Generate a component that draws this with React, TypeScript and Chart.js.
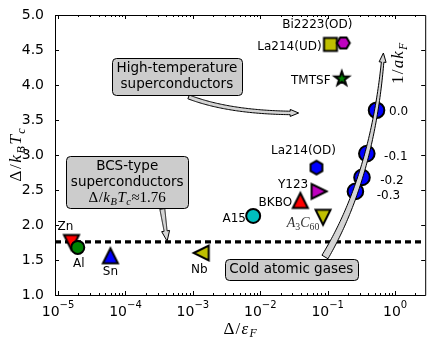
import React, { useEffect, useRef } from 'react';
import { Chart, registerables } from 'chart.js';

Chart.register(...registerables);

// ---------------- data ----------------
const materialNames = ['Zn', 'Al', 'Sn', 'Nb', 'A15', 'BKBO', 'Y123', 'A3C60', 'La214(OD)', 'TMTSF', 'La214(UD)', 'Bi2223(OD)'];
const materialGapOverFermi = [1.58e-5, 1.96e-5, 5.97e-5, 1.33e-3, 7.85e-3, 0.0393, 0.0746, 0.0853, 0.0682, 0.162, 0.110, 0.171];
const materialGapOverTc = [1.75, 1.68, 1.56, 1.60, 2.13, 2.35, 2.48, 2.11, 2.82, 4.09, 4.58, 4.60];

const coldAtomCoupling = ['0.0', '-0.1', '-0.2', '-0.3'];
const coldAtomGapOverFermi = [0.531, 0.381, 0.323, 0.258];
const coldAtomGapOverTc = [3.64, 3.02, 2.68, 2.48];

const bcsRatio = 1.76;

const xMin = 9e-6;
const xMax = 2.8;
const yMin = 1.0;
const yMax = 5.0;
const xTickValues = [1e-5, 1e-4, 1e-3, 1e-2, 1e-1, 1];
const xTickExponents = ['−5', '−4', '−3', '−2', '−1', '0'];
const yTickValues = [1.0, 1.5, 2.0, 2.5, 3.0, 3.5, 4.0, 4.5, 5.0];

// ---------------- styles ----------------
const materialShapes = ['tri-down', 'circle', 'tri-up', 'tri-left', 'circle', 'tri-up', 'tri-right', 'tri-down', 'hex1', 'star', 'square', 'hex2'];
const materialColors = ['#ff0000', '#008000', '#0000ff', '#bfbf00', '#00bfbf', '#ff0000', '#bf00bf', '#bfbf00', '#0000ff', '#008000', '#bfbf00', '#bf00bf'];
const materialSizes = [7.5, 6.5, 7.5, 7.5, 7, 7.5, 7.5, 7.5, 6.8, 7.5, 6.5, 6.4];
const materialOrder = [2, 1, 2, 2, 2, 2, 2, 2, 2, 2, 2, 1];
const materialLabelOffsets = [[-6, -16], [1, 16], [0, 16], [-2, 17], [-19, 3], [-25, 2], [-26, -7], [-20, 5], [-13, -17], [-31, 2], [-41, 2], [-26, -18]];
const coldLabelOffsets = [[22, 2], [29, 3], [30, 3], [33, 4]];

const SANS = '"DejaVu Sans", sans-serif';
const SERIF = '"Liberation Serif", "DejaVu Serif", serif';

type Seg = { t: string; it?: boolean; sub?: boolean };

const yTitle: Seg[] = [{ t: 'Δ' }, { t: '/' }, { t: 'k', it: true }, { t: 'B', it: true, sub: true }, { t: 'T', it: true }, { t: 'c', it: true, sub: true }];
const xTitle: Seg[] = [{ t: 'Δ' }, { t: '/' }, { t: 'ε', it: true }, { t: 'F', it: true, sub: true }];
const bcsMath: Seg[] = [{ t: 'Δ' }, { t: '/' }, { t: 'k', it: true }, { t: 'B', it: true, sub: true }, { t: 'T', it: true }, { t: 'c', it: true, sub: true }, { t: '≈1.76' }];
const a3c60Math: Seg[] = [{ t: 'A', it: true }, { t: '3', sub: true }, { t: 'C', it: true }, { t: '60', sub: true }];
const couplingMath: Seg[] = [{ t: '1' }, { t: '/' }, { t: 'a', it: true }, { t: 'k', it: true }, { t: 'F', it: true, sub: true }];

// annotation boxes (data coordinates of box centre)
const annotationBoxes: { lines: (string | Seg[])[]; x: number; y: number }[] = [
  { lines: ['High-temperature', 'superconductors'], x: 5.79e-4, y: 4.13 },
  { lines: ['BCS-type', 'superconductors', bcsMath], x: 1.06e-4, y: 2.62 },
  { lines: ['Cold atomic gases'], x: 0.0289, y: 1.37 },
];
// arrows: start, control, tip (data coordinates)
const annotationArrows = [
  { p: [[8.64e-4, 3.83], [3.61e-3, 3.60], [0.0371, 3.60]], w0: 4, w1: 3.5, hl: 8, hw: 7 },
  { p: [[3.52e-4, 2.23], [3.82e-4, 2.0], [4.15e-4, 1.77]], w0: 5, w1: 3, hl: 10, hw: 8 },
  { p: [[0.0912, 1.543], [0.481, 2.714], [0.671, 4.457]], w0: 7, w1: 2.5, hl: 8, hw: 7 },
];

function makeMarker(shape: string, fill: string, h: number, lw = 2): HTMLCanvasElement {
  let dim = Math.ceil(h * 2 + lw + 6);
  if (dim % 2) dim += 1;
  const c = document.createElement('canvas');
  c.width = dim;
  c.height = dim;
  const g = c.getContext('2d')!;
  g.translate(dim / 2, dim / 2);
  g.beginPath();
  switch (shape) {
    case 'tri-up': g.moveTo(0, -h); g.lineTo(h, h); g.lineTo(-h, h); break;
    case 'tri-down': g.moveTo(0, h); g.lineTo(h, -h); g.lineTo(-h, -h); break;
    case 'tri-left': g.moveTo(-h, 0); g.lineTo(h, -h); g.lineTo(h, h); break;
    case 'tri-right': g.moveTo(h, 0); g.lineTo(-h, -h); g.lineTo(-h, h); break;
    case 'square': g.rect(-h, -h, 2 * h, 2 * h); break;
    case 'hex1':
    case 'hex2': {
      const a0 = shape === 'hex1' ? -Math.PI / 2 : 0;
      for (let k = 0; k < 6; k++) {
        const a = a0 + (k * Math.PI) / 3;
        if (k === 0) g.moveTo(h * Math.cos(a), h * Math.sin(a));
        else g.lineTo(h * Math.cos(a), h * Math.sin(a));
      }
      break;
    }
    case 'star': {
      for (let k = 0; k < 10; k++) {
        const r = k % 2 === 0 ? h : h * 0.4;
        const a = -Math.PI / 2 + (k * Math.PI) / 5;
        if (k === 0) g.moveTo(r * Math.cos(a), r * Math.sin(a));
        else g.lineTo(r * Math.cos(a), r * Math.sin(a));
      }
      break;
    }
  }
  g.closePath();
  g.fillStyle = fill;
  g.fill();
  g.lineWidth = lw;
  g.strokeStyle = '#000';
  g.lineJoin = 'miter';
  g.stroke();
  return c;
}

function segFont(s: Seg, size: number) {
  return `${s.it ? 'italic ' : ''}${s.sub ? size * 0.7 : size}px ${SERIF}`;
}
function mathWidth(ctx: CanvasRenderingContext2D, segs: Seg[], size: number, gap: number) {
  let w = 0;
  segs.forEach((s, i) => {
    ctx.font = segFont(s, size);
    w += ctx.measureText(s.t).width + (i < segs.length - 1 ? gap : 0);
  });
  return w;
}
function drawMath(ctx: CanvasRenderingContext2D, segs: Seg[], cx: number, cy: number, size: number, color = '#000', gap = 1) {
  const w = mathWidth(ctx, segs, size, gap);
  let x = cx - w / 2;
  const base = cy + size * 0.33;
  ctx.fillStyle = color;
  ctx.textAlign = 'left';
  ctx.textBaseline = 'alphabetic';
  segs.forEach((s) => {
    ctx.font = segFont(s, size);
    ctx.fillText(s.t, x, s.sub ? base + size * 0.22 : base);
    x += ctx.measureText(s.t).width + gap;
  });
}

function drawFancyArrow(ctx: CanvasRenderingContext2D, p0: number[], p1: number[], p2: number[], w0: number, w1: number, headLen: number, headW: number) {
  const N = 80;
  const pts: number[][] = [];
  for (let i = 0; i <= N; i++) {
    const t = i / N;
    const mt = 1 - t;
    pts.push([
      mt * mt * p0[0] + 2 * mt * t * p1[0] + t * t * p2[0],
      mt * mt * p0[1] + 2 * mt * t * p1[1] + t * t * p2[1],
    ]);
  }
  const body = pts.filter((p) => Math.hypot(p[0] - p2[0], p[1] - p2[1]) >= headLen);
  const L: number[][] = [];
  const R: number[][] = [];
  body.forEach((p, i) => {
    const q = body[Math.min(i + 1, body.length - 1)];
    const r = body[Math.max(i - 1, 0)];
    let dx = q[0] - r[0];
    let dy = q[1] - r[1];
    const d = Math.hypot(dx, dy) || 1;
    dx /= d; dy /= d;
    const f = body.length > 1 ? i / (body.length - 1) : 1;
    const w = (w0 + (w1 - w0) * f) / 2;
    L.push([p[0] - dy * w, p[1] + dx * w]);
    R.push([p[0] + dy * w, p[1] - dx * w]);
  });
  const base = body[body.length - 1];
  let dx = p2[0] - base[0];
  let dy = p2[1] - base[1];
  const d = Math.hypot(dx, dy) || 1;
  dx /= d; dy /= d;
  ctx.beginPath();
  ctx.moveTo(L[0][0], L[0][1]);
  L.forEach((p) => ctx.lineTo(p[0], p[1]));
  ctx.lineTo(base[0] - dy * headW / 2, base[1] + dx * headW / 2);
  ctx.lineTo(p2[0], p2[1]);
  ctx.lineTo(base[0] + dy * headW / 2, base[1] - dx * headW / 2);
  R.slice().reverse().forEach((p) => ctx.lineTo(p[0], p[1]));
  ctx.closePath();
  ctx.fillStyle = '#d4d4d4';
  ctx.fill();
  ctx.strokeStyle = '#000';
  ctx.lineWidth = 1;
  ctx.lineJoin = 'miter';
  ctx.stroke();
}

function roundRectPath(ctx: CanvasRenderingContext2D, x: number, y: number, w: number, h: number, r: number) {
  ctx.beginPath();
  ctx.moveTo(x + r, y);
  ctx.lineTo(x + w - r, y);
  ctx.quadraticCurveTo(x + w, y, x + w, y + r);
  ctx.lineTo(x + w, y + h - r);
  ctx.quadraticCurveTo(x + w, y + h, x + w - r, y + h);
  ctx.lineTo(x + r, y + h);
  ctx.quadraticCurveTo(x, y + h, x, y + h - r);
  ctx.lineTo(x, y + r);
  ctx.quadraticCurveTo(x, y, x + r, y);
  ctx.closePath();
}

const decorPlugin = {
  id: 'decor',
  afterDatasetsDraw(chart: any) {
    const ctx: CanvasRenderingContext2D = chart.ctx;
    const xs = chart.scales.x;
    const ys = chart.scales.y;
    const px = (v: number) => xs.getPixelForValue(v);
    const py = (v: number) => ys.getPixelForValue(v);
    const { left, right, top, bottom } = chart.chartArea;
    ctx.save();

    // arrows
    annotationArrows.forEach((a) => {
      const pp = a.p.map((p) => [px(p[0]), py(p[1])]);
      drawFancyArrow(ctx, pp[0], pp[1], pp[2], a.w0, a.w1, a.hl, a.hw);
    });

    // boxes
    const boxSize = 13.5;
    const lineH = 15.5;
    annotationBoxes.forEach((b) => {
      const cx = px(b.x);
      const cy = py(b.y);
      let maxW = 0;
      b.lines.forEach((l) => {
        if (typeof l === 'string') {
          ctx.font = `${boxSize}px ${SANS}`;
          maxW = Math.max(maxW, ctx.measureText(l).width);
        } else {
          maxW = Math.max(maxW, mathWidth(ctx, l, 15, 0.5));
        }
      });
      const n = b.lines.length;
      const w = maxW + 9;
      const h = (n - 1) * lineH + 13 + 8;
      roundRectPath(ctx, Math.round(cx - w / 2) + 0.5, Math.round(cy - h / 2) + 0.5, Math.round(w), Math.round(h), 4);
      ctx.fillStyle = '#cccccc';
      ctx.fill();
      ctx.strokeStyle = '#000';
      ctx.lineWidth = 1;
      ctx.stroke();
      b.lines.forEach((l, i) => {
        const ly = cy - ((n - 1) * lineH) / 2 + i * lineH;
        if (typeof l === 'string') {
          ctx.font = `${boxSize}px ${SANS}`;
          ctx.fillStyle = '#000';
          ctx.textAlign = 'center';
          ctx.textBaseline = 'middle';
          ctx.fillText(l, cx, ly + 0.5);
        } else {
          drawMath(ctx, l, cx, ly, 15, '#000', 0.5);
        }
      });
    });

    // material labels
    materialNames.forEach((name, i) => {
      const x = px(materialGapOverFermi[i]) + materialLabelOffsets[i][0];
      const y = py(materialGapOverTc[i]) + materialLabelOffsets[i][1];
      if (name === 'A3C60') {
        drawMath(ctx, a3c60Math, x, y, 14, '#333', 0);
      } else {
        ctx.font = `12px ${SANS}`;
        ctx.fillStyle = '#000';
        ctx.textAlign = 'center';
        ctx.textBaseline = 'middle';
        ctx.fillText(name, x, y);
      }
    });
    coldAtomCoupling.forEach((lab, i) => {
      const x = px(coldAtomGapOverFermi[i]) + coldLabelOffsets[i][0];
      const y = py(coldAtomGapOverTc[i]) + coldLabelOffsets[i][1];
      ctx.font = `12px ${SANS}`;
      ctx.fillStyle = '#000';
      ctx.textAlign = 'center';
      ctx.textBaseline = 'middle';
      ctx.fillText(lab, x, y);
    });
    // 1/ak_F label
    ctx.save();
    ctx.translate(px(1.094), py(4.31));
    ctx.rotate(-Math.PI / 2);
    drawMath(ctx, couplingMath, 0, 0, 17, '#000', 1.2);
    ctx.restore();

    // frame
    ctx.strokeStyle = '#000';
    ctx.lineWidth = 1;
    ctx.beginPath();
    ctx.rect(left + 0.5, top + 0.5, right - left, bottom - top);
    ctx.stroke();

    // ticks (inward)
    ctx.beginPath();
    xTickValues.forEach((v) => {
      const X = Math.round(px(v)) + 0.5;
      ctx.moveTo(X, bottom); ctx.lineTo(X, bottom - 4);
      ctx.moveTo(X, top); ctx.lineTo(X, top + 4);
    });
    for (let e = -6; e <= 0; e++) {
      for (let k = 2; k <= 9; k++) {
        const v = k * Math.pow(10, e);
        if (v < xMin || v > xMax) continue;
        const X = Math.round(px(v)) + 0.5;
        ctx.moveTo(X, bottom); ctx.lineTo(X, bottom - 2);
        ctx.moveTo(X, top); ctx.lineTo(X, top + 2);
      }
    }
    yTickValues.forEach((v) => {
      const Y = Math.round(py(v)) + 0.5;
      ctx.moveTo(left, Y); ctx.lineTo(left + 4, Y);
      ctx.moveTo(right, Y); ctx.lineTo(right - 4, Y);
    });
    ctx.stroke();

    // x tick labels: 10 with superscript exponent
    ctx.fillStyle = '#000';
    ctx.textAlign = 'left';
    ctx.textBaseline = 'alphabetic';
    xTickValues.forEach((v, i) => {
      const X = px(v);
      ctx.font = `14px ${SANS}`;
      const wb = ctx.measureText('10').width;
      ctx.font = `10px ${SANS}`;
      const we = ctx.measureText(xTickExponents[i]).width;
      const x0 = X - (wb + we) / 2;
      ctx.font = `14px ${SANS}`;
      ctx.fillText('10', x0, bottom + 21);
      ctx.font = `10px ${SANS}`;
      ctx.fillText(xTickExponents[i], x0 + wb, bottom + 13);
    });

    // axis titles
    drawMath(ctx, xTitle, (left + right) / 2, bottom + 33, 17, '#000', 1.2);
    ctx.save();
    ctx.translate(15, (top + bottom) / 2);
    ctx.rotate(-Math.PI / 2);
    drawMath(ctx, yTitle, 0, 0, 17.5, '#000', 1.4);
    ctx.restore();

    ctx.restore();
  },
};

export default function App() {
  const ref = useRef<HTMLCanvasElement>(null);
  useEffect(() => {
    document.body.style.margin = '0';
    const datasets: any[] = [];
    materialNames.forEach((name, i) => {
      const shape = materialShapes[i];
      const isCircle = shape === 'circle';
      datasets.push({
        type: 'scatter',
        label: name,
        data: [{ x: materialGapOverFermi[i], y: materialGapOverTc[i] }],
        pointStyle: isCircle ? 'circle' : makeMarker(shape, materialColors[i], materialSizes[i]),
        pointRadius: materialSizes[i],
        backgroundColor: materialColors[i],
        borderColor: '#000',
        borderWidth: 2,
        order: materialOrder[i],
      });
    });
    datasets.push({
      type: 'scatter',
      label: 'Cold atomic gases',
      data: coldAtomGapOverFermi.map((x, i) => ({ x, y: coldAtomGapOverTc[i] })),
      pointStyle: 'circle',
      pointRadius: 7.8,
      backgroundColor: '#0000ff',
      borderColor: '#000',
      borderWidth: 2,
      order: 2,
    });
    datasets.push({
      type: 'line',
      label: 'BCS',
      data: [{ x: xMin, y: bcsRatio }, { x: xMax, y: bcsRatio }],
      borderColor: '#000',
      borderWidth: 3.3,
      borderDash: [6, 4],
      pointRadius: 0,
      fill: false,
      order: 10,
    });

    const chart = new Chart(ref.current!, {
      type: 'scatter',
      data: { datasets },
      options: {
        responsive: false,
        animation: false,
        devicePixelRatio: 1,
        events: [],
        layout: { padding: { top: 15, right: 0, bottom: 0, left: 0 } },
        plugins: { legend: { display: false }, tooltip: { enabled: false } },
        scales: {
          x: {
            type: 'logarithmic',
            min: xMin,
            max: xMax,
            afterBuildTicks: (s: any) => { s.ticks = xTickValues.map((v) => ({ value: v })); },
            afterFit: (s: any) => { s.height = 42; },
            ticks: { display: false },
            grid: { display: false },
            border: { display: false },
          },
          y: {
            type: 'linear',
            min: yMin,
            max: yMax,
            afterBuildTicks: (s: any) => { s.ticks = yTickValues.map((v) => ({ value: v })); },
            afterFit: (s: any) => { s.width = 55; },
            ticks: {
              padding: 3,
              color: '#000',
              font: { family: SANS, size: 14 },
              callback: (v: any) => Number(v).toFixed(1),
            },
            grid: { display: false },
            border: { display: false },
          },
        },
      } as any,
      plugins: [decorPlugin],
    });
    return () => chart.destroy();
  }, []);
  return (
    <div style={{ width: 435, height: 337 }}>
      <canvas ref={ref} width={435} height={337} style={{ display: 'block', width: 435, height: 337 }} />
    </div>
  );
}
